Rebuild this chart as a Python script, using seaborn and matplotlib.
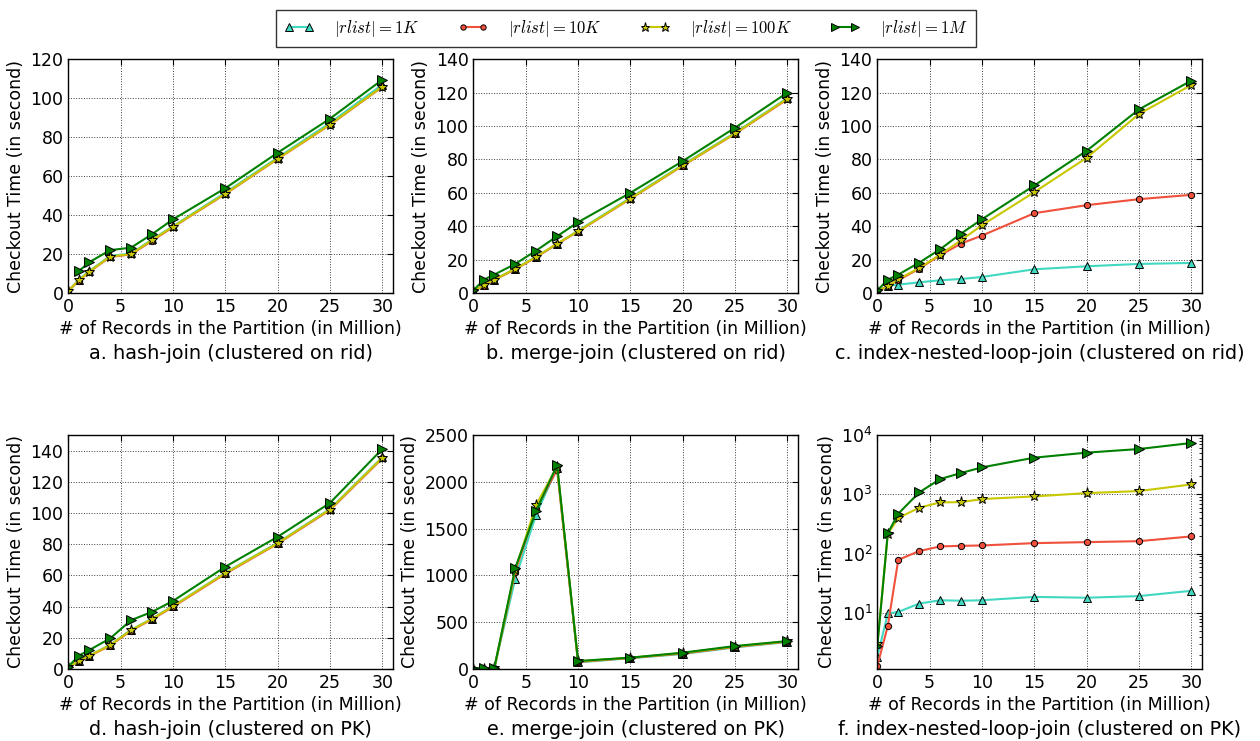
import numpy as np
import pandas as pd
import seaborn as sns
import matplotlib.pyplot as plt
from matplotlib.ticker import LogLocator

# x positions (records in million)
records = [0, 1, 2, 4, 6, 8, 10, 15, 20, 25, 30]
series_names = ["1K", "10K", "100K", "1M"]

# a. hash-join (clustered on rid)
a_1k = [1, 6.8, 11.3, 19.0, 20.3, 27.5, 34.3, 51.5, 69.5, 87.3, 107]
a_10k = [1, 6.3, 10.8, 18.5, 19.8, 26.8, 33.8, 50.8, 68.8, 86.3, 105.8]
a_100k = [1, 6.5, 11.0, 18.7, 20.0, 27.2, 34.0, 51.0, 69.0, 86.5, 106]
a_1m = [np.nan, 11.2, 15.8, 22.0, 23.3, 30.2, 37.8, 53.8, 72.0, 89.5, 109.5]

# b. merge-join (clustered on rid)
b_1k = [1, 4.6, 8.0, 14.6, 21.8, 29.3, 37.3, 57.0, 76.8, 96.0, 116.8]
b_10k = [1, 4.4, 7.8, 14.2, 21.4, 29.4, 36.8, 56.4, 76.2, 95.4, 116.0]
b_100k = [1, 4.6, 8.0, 14.4, 21.6, 29.6, 37.0, 56.6, 76.4, 95.6, 116.4]
b_1m = [1.5, 8.0, 11.0, 17.4, 25.4, 34.0, 42.4, 60.0, 79.0, 99.0, 120]

# c. index-nested-loop-join (clustered on rid)
c_1k = [1, 4.2, 5.0, 6.4, 7.6, 8.4, 9.6, 14.2, 16.0, 17.4, 18.0]
c_10k = [1, 4.2, 7.6, 14.6, 22.6, 29.6, 34.4, 47.8, 52.6, 56.2, 58.8]
c_100k = [1, 4.2, 8.2, 15.0, 23.0, 31.6, 40.6, 60.4, 81.0, 107.2, 124.6]
c_1m = [1.5, 8.0, 11.0, 18.2, 26.2, 35.6, 44.2, 64.4, 85.2, 110, 127.2]

# d. hash-join (clustered on PK)
d_1k = [1, 5.3, 8.5, 15.5, 25.1, 32.3, 40.4, 61.7, 80.9, 102.5, 135.7]
d_10k = [1, 5.0, 8.2, 15.0, 24.6, 31.8, 39.8, 61.0, 80.3, 101.8, 135.0]
d_100k = [1, 5.2, 8.4, 15.3, 24.9, 32.1, 40.2, 61.4, 80.6, 102.2, 135.4]
d_1m = [1.5, 8.5, 12.1, 19.6, 31.3, 36.6, 43.6, 65.5, 84.7, 106.4, 141]

# e. merge-join (clustered on PK)
e_1k = [3, 5, 8, 965, 1650, 2150, 70, 115, 160, 230, 288]
e_10k = [3, 5, 8, 1040, 1710, 2130, 75, 118, 165, 235, 292]
e_100k = [3, 5, 8, 1060, 1755, 2160, 80, 120, 170, 240, 295]
e_1m = [4, 6, 10, 1078, 1692, 2178, 85, 121, 174, 245, 298]

# f. index-nested-loop-join (clustered on PK), log scale
f_1k = [1.85, 9.9, 10.5, 14.5, 16.5, 16.2, 16.5, 18.8, 18.2, 19.4, 23.8]
f_10k = [1.3, 6.1, 79, 111, 133, 136, 138, 151, 157, 163, 196]
f_100k = [3.0, 217, 400, 597, 733, 740, 834, 925, 1050, 1137, 1470]
f_1m = [2.8, 222, 473, 1080, 1810, 2290, 2850, 4150, 5040, 5800, 7330]

yticks_lin = {
    0: range(0, 121, 20),
    1: range(0, 141, 20),
    2: range(0, 141, 20),
    3: range(0, 141, 20),
    4: range(0, 2501, 500),
}

panels = [
    ("a. hash-join (clustered on rid)", [a_1k, a_10k, a_100k, a_1m], (0, 120)),
    ("b. merge-join (clustered on rid)", [b_1k, b_10k, b_100k, b_1m], (0, 140)),
    ("c. index-nested-loop-join (clustered on rid)", [c_1k, c_10k, c_100k, c_1m], (0, 140)),
    ("d. hash-join (clustered on PK)", [d_1k, d_10k, d_100k, d_1m], (0, 150)),
    ("e. merge-join (clustered on PK)", [e_1k, e_10k, e_100k, e_1m], (0, 2500)),
    ("f. index-nested-loop-join (clustered on PK)", [f_1k, f_10k, f_100k, f_1m], (1.15, 1e4)),
]

colors = ["#40d8c0", "#f0503c", "#c8c800", "#008000"]
markers = ["^", "o", "*", ">"]
msizes = [6, 4.5, 8, 7]

sns.set_style("white")
plt.rcParams.update({
    "font.family": ["DejaVu Sans"],
    "mathtext.fontset": "cm",
    "text.color": "black",
    "axes.labelcolor": "black",
    "xtick.color": "black",
    "ytick.color": "black",
    "xtick.direction": "in",
    "ytick.direction": "in",
    "xtick.top": True,
    "ytick.right": True,
    "xtick.major.size": 4,
    "ytick.major.size": 4,
    "xtick.minor.size": 2,
    "ytick.minor.size": 2,
    "axes.edgecolor": "black",
    "axes.linewidth": 1.0,
    "xtick.labelsize": 12.5,
    "ytick.labelsize": 12.5,
    "axes.labelsize": 12.5,
})

fig = plt.figure(figsize=(12.6, 7.41), dpi=100)
lefts = [0.0542, 0.3757, 0.6963]
width = 0.2575
rows = [(0.6046, 0.3154), (0.0972, 0.3158)]

handles = None
for i, (caption, vals, ylim) in enumerate(panels):
    r, c = divmod(i, 3)
    ax = fig.add_axes([lefts[c], rows[r][0], width, rows[r][1]])
    for name, v, col, mk, ms in zip(series_names, vals, colors, markers, msizes):
        df = pd.DataFrame({"x": records, "y": v}).dropna()
        sns.lineplot(data=df, x="x", y="y", ax=ax, color=col, marker=mk,
                     markersize=ms, markerfacecolor=col, markeredgecolor="black",
                     markeredgewidth=0.7, linewidth=1.5,
                     label=r"$|rlist|=%s$" % name)
    if i == 5:
        ax.set_yscale("log")
        ax.yaxis.set_major_locator(LogLocator(base=10, numticks=10))
    else:
        ax.set_yticks(list(yticks_lin[i]))
    ax.set_xlim(0, 31)
    ax.set_ylim(*ylim)
    ax.set_xticks([0, 5, 10, 15, 20, 25, 30])
    ax.grid(True, which="major", linestyle=":", color="0.25", linewidth=0.7)
    ax.set_xlabel("# of Records in the Partition (in Million)", labelpad=3)
    ax.set_ylabel("Checkout Time (in second)")
    ax.text(0.5, -0.258, caption, transform=ax.transAxes, ha="center",
            va="center", fontsize=13.9)
    if handles is None:
        handles, labels = ax.get_legend_handles_labels()
    ax.get_legend().remove()

leg = fig.legend(handles, labels, loc="upper center", bbox_to_anchor=(0.497, 0.998),
                 ncol=4, numpoints=2, handlelength=1.8, handletextpad=1.2,
                 columnspacing=2.3, fontsize=12, frameon=True, fancybox=False,
                 borderpad=0.5, markerscale=0.85)
leg.get_frame().set_edgecolor("black")
leg.get_frame().set_linewidth(1.0)

fig.savefig("out.png", dpi=100)
